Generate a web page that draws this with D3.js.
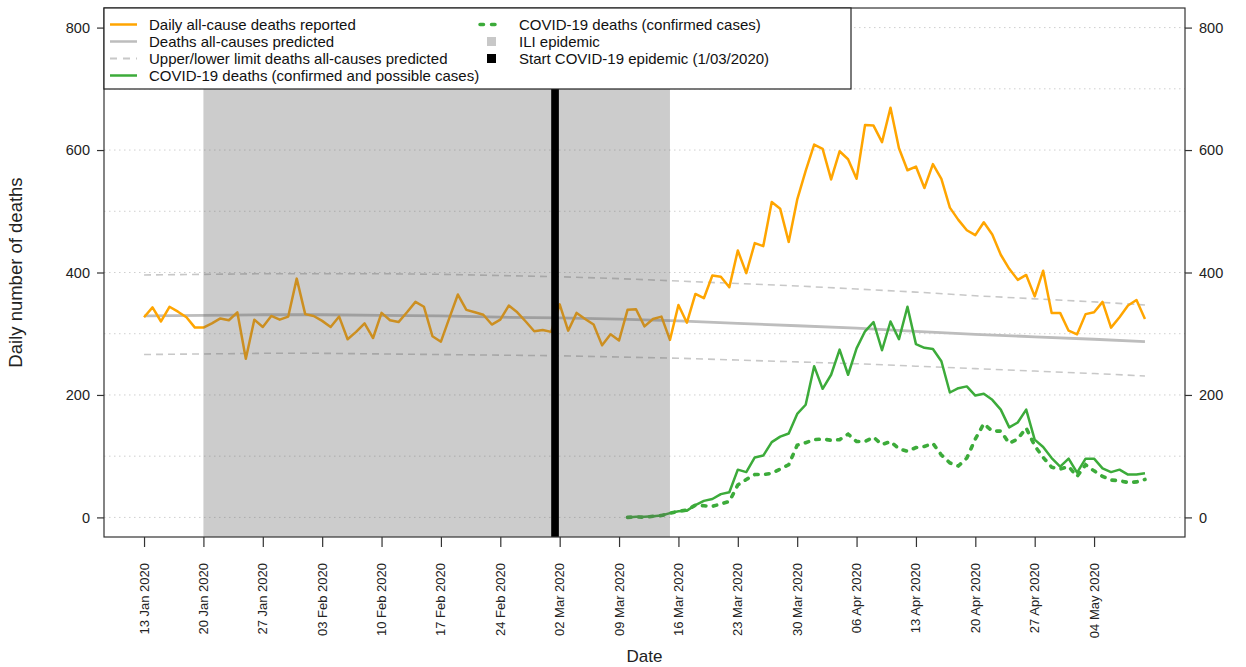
<!DOCTYPE html>
<html>
<head>
<meta charset="utf-8">
<script src="https://cdn.jsdelivr.net/npm/d3@7"></script>
<style>
  html, body { margin: 0; padding: 0; background: #fff; }
  svg { display: block; font-family: "Liberation Sans", Arial, Helvetica, sans-serif; }
</style>
</head>
<body>
<svg id="chart" width="1246" height="667"></svg>
<script>
// ---------------- DATA ----------------
const firstDay = "2020-01-13";   // first reported day
const lastDay  = "2020-05-10";   // last reported day

// Daily all-cause deaths reported (13 Jan – 10 May 2020)
const allCauseDeaths = [
  327, 343, 320, 344, 336, 327, 310, 310, 317, 325, 322, 335, 259, 323, 311, 329,
  323, 328, 390, 332, 329, 321, 311, 328, 291, 303, 317, 293, 334, 322, 319, 335,
  352, 344, 296, 287, 326, 364, 339, 335, 331, 315, 323, 346, 335, 320, 304, 306,
  303, 348, 305, 334, 324, 315, 281, 299, 289, 339, 340, 312, 324, 328, 290, 347,
  318, 365, 358, 395, 393, 376, 436, 399, 448, 443, 515, 504, 450, 519, 566, 609,
  602, 552, 598, 585, 553, 641, 640, 613, 669, 603, 567, 573, 538, 577, 553, 506,
  486, 469, 461, 482, 462, 429, 406, 388, 396, 361, 403, 334, 334, 305, 299, 332,
  335, 352, 310, 327, 346, 355, 324
];

// Predicted all-cause deaths and limits (weekly readings)
const predDates = ["2020-01-13","2020-01-20","2020-01-27","2020-02-03","2020-02-10","2020-02-17",
  "2020-02-24","2020-03-02","2020-03-09","2020-03-16","2020-03-23","2020-03-30","2020-04-06",
  "2020-04-13","2020-04-20","2020-04-27","2020-05-04","2020-05-10"];
const predicted = [329, 330, 331, 331, 330, 329, 327, 326, 324, 321, 317, 313, 309, 304, 299, 295, 291, 287];
const upperLimit = [396, 397, 398, 398, 398, 397, 395, 393, 390, 386, 382, 378, 373, 368, 362, 357, 352, 347];
const lowerLimit = [266, 267, 268, 268, 267, 266, 265, 264, 262, 260, 257, 254, 251, 247, 243, 239, 235, 231];

// COVID-19 deaths (10 Mar – 10 May 2020)
const covidFirstDay = "2020-03-10";
const covidAll = [
  0, 1, 1, 2, 3, 7, 10, 11, 20, 27, 30, 38, 41, 78, 74, 98, 101, 123, 132, 137,
  169, 184, 247, 210, 233, 274, 233, 276, 304, 319, 273, 320, 291, 344, 283, 277,
  275, 255, 204, 211, 214, 199, 202, 192, 176, 147, 155, 176, 127, 115, 97, 83,
  96, 73, 96, 96, 80, 74, 78, 70, 70, 72
];
const covidConfirmed = [
  0, 1, 0, 2, 3, 7, 10, 12, 20, 19, 18, 22, 26, 53, 62, 70, 70, 72, 79, 86,
  118, 122, 127, 128, 126, 127, 136, 124, 124, 131, 119, 124, 112, 108, 114, 116,
  121, 102, 89, 84, 97, 128, 153, 141, 141, 121, 128, 146, 117, 98, 82, 79,
  83, 67, 86, 76, 67, 61, 60, 57, 58, 62
];

// Periods
const iliEpidemic = ["2020-01-20", "2020-03-15"];
const covidStart = "2020-03-01";

// Axis ticks
const xTickDates = ["2020-01-13","2020-01-20","2020-01-27","2020-02-03","2020-02-10","2020-02-17",
  "2020-02-24","2020-03-02","2020-03-09","2020-03-16","2020-03-23","2020-03-30","2020-04-06",
  "2020-04-13","2020-04-20","2020-04-27","2020-05-04"];
const yTicks = [0, 200, 400, 600, 800];
const yGrid = [0, 100, 200, 300, 400, 500, 600, 700, 800];

const legendItems = [
  {label: "Daily all-cause deaths reported", type: "line", color: "#FFA500", width: 2.5},
  {label: "Deaths all-causes predicted", type: "line", color: "#bdbdbd", width: 2.5},
  {label: "Upper/lower limit deaths all-causes predicted", type: "dash", color: "#c8c8c8", width: 1.8},
  {label: "COVID-19 deaths (confirmed and possible cases)", type: "line", color: "#3cab3a", width: 2.5},
  {label: "COVID-19 deaths (confirmed cases)", type: "dot", color: "#3cab3a", width: 3.5},
  {label: "ILI epidemic", type: "square", color: "#c8c8c8"},
  {label: "Start COVID-19 epidemic (1/03/2020)", type: "square", color: "#000000"}
];

// ---------------- CHART ----------------
const parse = d3.utcParse("%Y-%m-%d");
const svg = d3.select("#chart");
const W = 1246, H = 667;
const plot = {left: 104, right: 1185, top: 8, bottom: 537};

const d0 = parse(firstDay), d1 = parse(lastDay);
const allDays = d3.utcDay.range(d0, d3.utcDay.offset(d1, 1));
const covidDays = d3.utcDay.range(parse(covidFirstDay), d3.utcDay.offset(d1, 1));
const span = d1 - d0;
const x = d3.scaleUtc()
  .domain([new Date(+d0 - 0.04 * span), new Date(+d1 + 0.04 * span)])
  .range([plot.left, plot.right]);
const y = d3.scaleLinear().domain([-32, 832]).range([plot.bottom, plot.top]);

// gridlines
svg.append("g").selectAll("line").data(yGrid).join("line")
  .attr("x1", plot.left).attr("x2", plot.right)
  .attr("y1", d => y(d)).attr("y2", d => y(d))
  .attr("stroke", "#cfcfcf").attr("stroke-width", 1)
  .attr("stroke-dasharray", "1.5,3.5");

const line = d3.line().x(d => x(d[0])).y(d => y(d[1]));

const predPairs = arr => predDates.map((d, i) => [parse(d), arr[i]]);

// limits
[upperLimit, lowerLimit].forEach(arr => {
  svg.append("path").datum(predPairs(arr))
    .attr("d", line).attr("fill", "none")
    .attr("stroke", "#c8c8c8").attr("stroke-width", 1.6)
    .attr("stroke-dasharray", "7,5");
});
// predicted
svg.append("path").datum(predPairs(predicted))
  .attr("d", line).attr("fill", "none")
  .attr("stroke", "#bdbdbd").attr("stroke-width", 2.8);

// all-cause
svg.append("path").datum(allDays.map((d, i) => [d, allCauseDeaths[i]]))
  .attr("d", line).attr("fill", "none")
  .attr("stroke", "#FFA500").attr("stroke-width", 2.5).attr("stroke-linejoin", "round");

// covid all
svg.append("path").datum(covidDays.map((d, i) => [d, covidAll[i]]))
  .attr("d", line).attr("fill", "none")
  .attr("stroke", "#3cab3a").attr("stroke-width", 2.5).attr("stroke-linejoin", "round");
// covid confirmed
svg.append("path").datum(covidDays.map((d, i) => [d, covidConfirmed[i]]))
  .attr("d", line).attr("fill", "none")
  .attr("stroke", "#3cab3a").attr("stroke-width", 3.6)
  .attr("stroke-linecap", "round").attr("stroke-dasharray", "3.5,7.5");

// ILI shade (semi-transparent, over lines)
svg.append("rect")
  .attr("x", x(parse(iliEpidemic[0])))
  .attr("width", x(parse(iliEpidemic[1])) - x(parse(iliEpidemic[0])))
  .attr("y", plot.top).attr("height", plot.bottom - plot.top)
  .attr("fill", "rgb(100,100,100)").attr("fill-opacity", 0.33);

// start covid bar
const cs = parse(covidStart);
svg.append("rect")
  .attr("x", x(cs))
  .attr("width", x(d3.utcDay.offset(cs, 1)) - x(cs) - 0.8)
  .attr("y", plot.top).attr("height", plot.bottom - plot.top)
  .attr("fill", "#000");

// box
svg.append("rect")
  .attr("x", plot.left).attr("y", plot.top)
  .attr("width", plot.right - plot.left).attr("height", plot.bottom - plot.top)
  .attr("fill", "none").attr("stroke", "#333").attr("stroke-width", 1.2);

// axes
const axisColor = "#333";
const gB = svg.append("g").attr("transform", `translate(0,${plot.bottom})`)
  .call(d3.axisBottom(x).tickValues(xTickDates.map(parse)).tickSize(10).tickFormat(""));
gB.select(".domain").remove();
gB.selectAll(".tick line").attr("stroke", axisColor).attr("stroke-width", 1.2);
const fmt = d3.utcFormat("%d %b %Y");
svg.append("g").selectAll("text").data(xTickDates).join("text")
  .attr("transform", d => `translate(${x(parse(d)) + 4.5},${plot.bottom + 26}) rotate(-90)`)
  .attr("text-anchor", "end")
  .attr("font-size", 13).attr("fill", "#222")
  .text(d => fmt(parse(d)));

const gL = svg.append("g").attr("transform", `translate(${plot.left},0)`)
  .call(d3.axisLeft(y).tickValues(yTicks).tickSize(7).tickPadding(7));
gL.select(".domain").remove();
gL.selectAll(".tick line").attr("stroke", axisColor).attr("stroke-width", 1.2);
gL.selectAll("text").attr("font-size", 14.5).attr("fill", "#222")
  .attr("font-family", "Liberation Sans, Arial, sans-serif");

const gR = svg.append("g").attr("transform", `translate(${plot.right},0)`)
  .call(d3.axisRight(y).tickValues(yTicks).tickSize(7).tickPadding(7));
gR.select(".domain").remove();
gR.selectAll(".tick line").attr("stroke", axisColor).attr("stroke-width", 1.2);
gR.selectAll("text").attr("font-size", 14.5).attr("fill", "#222")
  .attr("font-family", "Liberation Sans, Arial, sans-serif");

// titles
svg.append("text").attr("x", (plot.left + plot.right) / 2).attr("y", 662)
  .attr("text-anchor", "middle").attr("font-size", 17).attr("fill", "#222").text("Date");
svg.append("text").attr("transform", `translate(22,${(plot.top + plot.bottom) / 2}) rotate(-90)`)
  .attr("text-anchor", "middle").attr("font-size", 18.5).attr("fill", "#222")
  .text("Daily number of deaths");

// legend
const lg = svg.append("g");
lg.append("rect").attr("x", plot.left).attr("y", plot.top)
  .attr("width", 747).attr("height", 81)
  .attr("fill", "#fff").attr("stroke", "#222").attr("stroke-width", 1.2);
const rowY = [24.5, 41.5, 58.5, 75.5];
legendItems.forEach((it, i) => {
  const col = i < 4 ? 0 : 1;
  const row = i < 4 ? i : i - 4;
  const cy = rowY[row];
  const sx = col === 0 ? 110 : 478;
  const tx = col === 0 ? 149 : 519;
  if (it.type === "line" || it.type === "dash" || it.type === "dot") {
    const l = lg.append("line")
      .attr("x1", sx).attr("x2", sx + (col === 0 ? 27 : 22))
      .attr("y1", cy).attr("y2", cy)
      .attr("stroke", it.color).attr("stroke-width", it.width);
    if (it.type === "dash") l.attr("stroke-dasharray", "7,6");
    if (it.type === "dot") l.attr("stroke-dasharray", "3.5,8").attr("stroke-linecap", "round").attr("x1", sx + 2);
  } else {
    lg.append("rect").attr("x", 487).attr("y", cy - 4.5).attr("width", 9).attr("height", 9)
      .attr("fill", it.color);
  }
  lg.append("text").attr("x", tx).attr("y", cy).attr("dominant-baseline", "central")
    .attr("font-size", 15).attr("fill", "#111").text(it.label);
});
</script>
</body>
</html>
